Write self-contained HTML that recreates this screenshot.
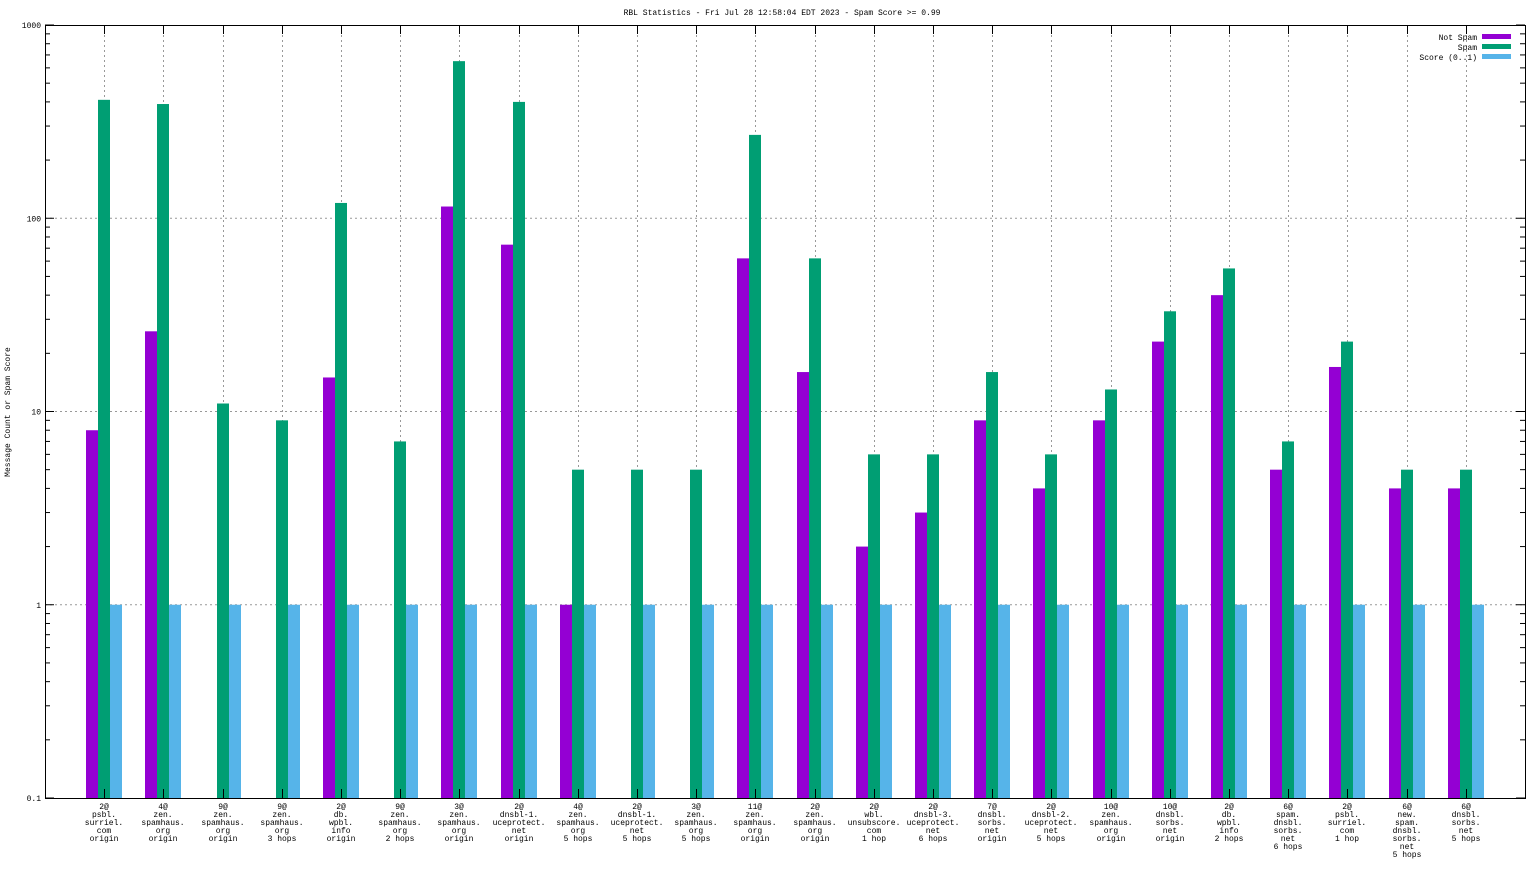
<!DOCTYPE html>
<html><head><meta charset="utf-8"><style>
body{margin:0;background:#fff}
svg text{font-family:"Liberation Mono","DejaVu Sans Mono",monospace;font-size:8px;fill:#000}
</style></head><body>
<svg id="c" width="1536" height="864" xmlns="http://www.w3.org/2000/svg">
<text x="782" y="15" text-anchor="middle">RBL Statistics - Fri Jul 28 12:58:04 EDT 2023 - Spam Score &gt;= 0.99</text>
<text transform="translate(10,412) rotate(-90)" text-anchor="middle">Message Count or Spam Score</text>
<g id="grid"></g><g id="bars"></g><g id="axes"></g>
<g>
<text x="1477" y="40" text-anchor="end">Not Spam</text>
<rect x="1482" y="34" width="29" height="5" fill="#9400d3"/>
<text x="1477" y="50" text-anchor="end">Spam</text>
<rect x="1482" y="44" width="29" height="5" fill="#009e73"/>
<text x="1477" y="60" text-anchor="end">Score (0..1)</text>
<rect x="1482" y="54" width="29" height="5" fill="#56b4e9"/>
</g>
</svg>
<script>
const categories=[
["2@","psbl.","surriel.","com","origin"],["4@","zen.","spamhaus.","org","origin"],["9@","zen.","spamhaus.","org","origin"],["9@","zen.","spamhaus.","org","3 hops"],
["2@","db.","wpbl.","info","origin"],["9@","zen.","spamhaus.","org","2 hops"],["3@","zen.","spamhaus.","org","origin"],["2@","dnsbl-1.","uceprotect.","net","origin"],
["4@","zen.","spamhaus.","org","5 hops"],["2@","dnsbl-1.","uceprotect.","net","5 hops"],["3@","zen.","spamhaus.","org","5 hops"],["11@","zen.","spamhaus.","org","origin"],
["2@","zen.","spamhaus.","org","origin"],["2@","wbl.","unsubscore.","com","1 hop"],["2@","dnsbl-3.","uceprotect.","net","6 hops"],["7@","dnsbl.","sorbs.","net","origin"],
["2@","dnsbl-2.","uceprotect.","net","5 hops"],["10@","zen.","spamhaus.","org","origin"],["10@","dnsbl.","sorbs.","net","origin"],["2@","db.","wpbl.","info","2 hops"],
["6@","spam.","dnsbl.","sorbs.","net","6 hops"],["2@","psbl.","surriel.","com","1 hop"],["6@","new.","spam.","dnsbl.","sorbs.","net","5 hops"],["6@","dnsbl.","sorbs.","net","5 hops"]];
const notSpam=[8,26,0,0,15,0,115,73,1,0,0,62,16,2,3,9,4,9,23,40,5,17,4,4];
const spam=[410,390,11,9,120,7,650,400,5,5,5,270,62,6,6,16,6,13,33,55,7,23,5,5];
const score=[1,1,1,1,1,1,1,1,1,1,1,1,1,1,1,1,1,1,1,1,1,1,1,1];
const yTicks=[0.1,1,10,100,1000];
const yTickLabels=["0.1","1","10","100","1000"];

const NS="http://www.w3.org/2000/svg";
const L=45,R=1525,T=25,B=798;
const n=categories.length;
const xs=i=>L+(R-L)*(i+1)/(n+1);
const ys=v=>B-(Math.log10(v)+1)/4*(B-T);
function mk(tag,attrs,parent){const e=document.createElementNS(NS,tag);for(const k in attrs)e.setAttribute(k,attrs[k]);parent.appendChild(e);return e;}
const grid=document.getElementById('grid'),bars=document.getElementById('bars'),axes=document.getElementById('axes');
// horizontal grid + y ticks
yTicks.forEach((t,k)=>{
 const y=ys(t);
 if(k>0&&k<yTicks.length-1){const g=mk('line',{x1:L,x2:R,y1:y,y2:y,stroke:'#999','stroke-dasharray':'2,3','stroke-width':1},grid);
 
 }
 const tx=mk('text',{x:L-4,y:y+3,'text-anchor':'end'},axes);tx.textContent=yTickLabels[k];
 
 
 mk('line',{x1:L,x2:L+9,y1:y,y2:y,stroke:'#000'},axes);mk('line',{x1:R,x2:R-9,y1:y,y2:y,stroke:'#000'},axes);
 if(k<yTicks.length-1){for(let m=2;m<=9;m++){const yy=ys(t*m);mk('line',{x1:L,x2:L+5,y1:yy,y2:yy,stroke:'#000'},axes);mk('line',{x1:R,x2:R-5,y1:yy,y2:yy,stroke:'#000'},axes);}}
});
categories.forEach((c,i)=>{
 const x=Math.round(xs(i));
 const g=mk('line',{x1:x+0.5,x2:x+0.5,y1:T,y2:B,stroke:'#999','stroke-dasharray':'2,3'},grid);
 
 
 mk('line',{x1:x+0.5,x2:x+0.5,y1:B,y2:B-9,stroke:'#000'},axes);mk('line',{x1:x+0.5,x2:x+0.5,y1:T,y2:T+9,stroke:'#000'},axes);
 const tx=mk('text',{x:x,y:B+11,'text-anchor':'middle'},axes);
 
 
 c.forEach((s,j)=>{const ts=mk('tspan',{x:x,dy:j?8:0},tx);ts.textContent=s;});
 [[notSpam[i],'#9400d3',-18,'bar-not-spam'],[spam[i],'#009e73',-6,'bar-spam'],[score[i],'#56b4e9',6,'bar-score']].forEach(([v,col,off,name])=>{
  if(v>0){const y=ys(v);const r=mk('rect',{x:x+off,y:y,width:12,height:B-y,fill:col},bars);
  
  }
 });
});
const f=mk('rect',{x:L+0.5,y:T+0.5,width:R-L,height:B-T,fill:'none',stroke:'#000'},axes);


</script>
</body></html>
